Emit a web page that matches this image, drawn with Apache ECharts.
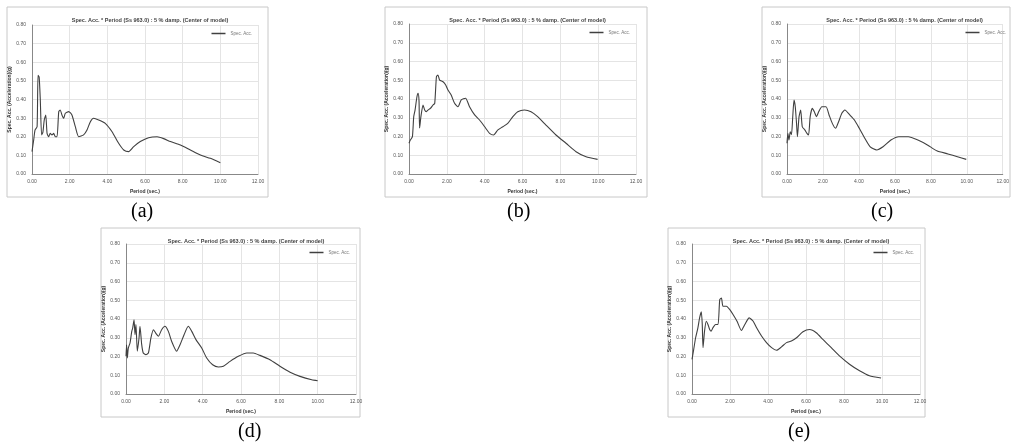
<!DOCTYPE html>
<html>
<head>
<meta charset="utf-8">
<script src="https://cdn.jsdelivr.net/npm/echarts@6/dist/echarts.min.js"></script>
<style>
html,body{margin:0;padding:0;background:#fff;}
#c{width:1012px;height:447px;}
</style>
</head>
<body>
<div id="c"></div>
<script>
// ---- data (period in sec., spectral value) ----
const xTicks = [0, 2, 4, 6, 8, 10, 12];
const yTicks = [0, 0.1, 0.2, 0.3, 0.4, 0.5, 0.6, 0.7, 0.8];
const captions = ['(a)', '(b)', '(c)', '(d)', '(e)'];
const titleText = 'Spec. Acc. * Period (Ss 963.0) : 5 % damp. (Center of model)';
const xAxisName = 'Period (sec.)';
const yAxisName = 'Spec. Acc. (Acceleration)(g)';
const seriesName = 'Spec. Acc.';

const aX = [0,0.09,0.16,0.27,0.32,0.38,0.44,0.51,0.58,0.65,0.73,0.80,0.88,0.97,1.06,1.15,1.24,1.33,1.42,1.50,1.59,1.68,1.77,1.95,2.12,2.30,2.48,2.74,2.92,3.10,3.27,3.54,3.89,4.25,4.60,4.87,5.13,5.40,5.75,6.19,6.64,6.99,7.35,7.88,8.41,8.94,9.47,10.0];
const aY = [0.12,0.183,0.236,0.254,0.53,0.52,0.40,0.21,0.225,0.29,0.317,0.218,0.20,0.218,0.21,0.218,0.20,0.20,0.335,0.344,0.317,0.299,0.326,0.335,0.317,0.254,0.20,0.21,0.236,0.281,0.299,0.29,0.272,0.227,0.165,0.129,0.12,0.147,0.174,0.195,0.20,0.19,0.174,0.156,0.129,0.102,0.084,0.061];

const bX = [0,0.07,0.18,0.25,0.32,0.42,0.48,0.53,0.56,0.63,0.74,0.83,0.91,1.0,1.13,1.27,1.36,1.45,1.53,1.62,1.80,1.94,2.06,2.23,2.41,2.59,2.76,2.99,3.20,3.47,3.73,4.0,4.26,4.47,4.70,4.96,5.22,5.49,5.75,6.10,6.45,6.80,7.24,7.77,8.30,8.83,9.36,9.97];
const bY = [0.164,0.181,0.199,0.306,0.341,0.412,0.43,0.39,0.245,0.306,0.368,0.341,0.332,0.341,0.35,0.368,0.377,0.519,0.528,0.501,0.492,0.475,0.448,0.421,0.377,0.359,0.395,0.404,0.359,0.315,0.288,0.252,0.217,0.208,0.235,0.252,0.27,0.306,0.332,0.341,0.332,0.306,0.261,0.208,0.164,0.119,0.092,0.078];

const cX = [0,0.05,0.11,0.18,0.25,0.32,0.39,0.46,0.53,0.58,0.67,0.76,0.85,0.99,1.11,1.20,1.29,1.41,1.52,1.64,1.76,1.94,2.17,2.34,2.52,2.70,2.87,3.05,3.22,3.49,3.75,4.02,4.28,4.63,4.99,5.34,5.78,6.22,6.75,7.28,7.81,8.33,8.95,9.48,9.97];
const cY = [0.164,0.217,0.181,0.225,0.21,0.306,0.395,0.359,0.27,0.199,0.306,0.341,0.252,0.235,0.217,0.208,0.306,0.35,0.332,0.306,0.332,0.359,0.359,0.315,0.27,0.244,0.279,0.324,0.341,0.315,0.288,0.244,0.199,0.145,0.128,0.145,0.181,0.199,0.199,0.181,0.155,0.124,0.107,0.092,0.078];

const dX = [0,0.03,0.07,0.12,0.21,0.30,0.35,0.42,0.47,0.52,0.59,0.68,0.73,0.82,0.90,1.04,1.17,1.30,1.43,1.55,1.69,1.86,2.03,2.21,2.38,2.64,2.82,3.03,3.25,3.43,3.65,3.95,4.21,4.52,4.82,5.08,5.43,5.86,6.30,6.64,6.99,7.51,8.03,8.56,9.08,9.69,10.0];
const dY = [0.201,0.263,0.192,0.245,0.272,0.334,0.352,0.396,0.316,0.37,0.228,0.299,0.361,0.263,0.219,0.21,0.219,0.299,0.343,0.325,0.308,0.343,0.361,0.334,0.281,0.228,0.263,0.316,0.361,0.334,0.29,0.245,0.192,0.156,0.144,0.148,0.174,0.201,0.219,0.219,0.206,0.183,0.148,0.116,0.094,0.076,0.071];

const eX = [0,0.09,0.19,0.31,0.40,0.49,0.54,0.58,0.66,0.75,0.84,0.93,1.01,1.10,1.24,1.37,1.46,1.55,1.63,1.81,1.99,2.16,2.37,2.60,2.78,3.01,3.22,3.40,3.66,3.92,4.19,4.45,4.71,4.97,5.23,5.50,5.84,6.19,6.54,6.89,7.33,7.76,8.29,8.82,9.34,9.95];
const eY = [0.185,0.238,0.300,0.353,0.406,0.438,0.371,0.247,0.335,0.388,0.371,0.344,0.335,0.353,0.371,0.371,0.503,0.512,0.468,0.468,0.450,0.424,0.388,0.339,0.371,0.406,0.388,0.353,0.309,0.274,0.247,0.233,0.251,0.274,0.283,0.300,0.332,0.344,0.327,0.291,0.247,0.203,0.159,0.124,0.097,0.085];

const panelX = [aX, bX, cX, dX, eX];
const panelY = [aY, bY, cY, dY, eY];

// ---- layout (pixels) ----
const panels = [
  {box:[7,7,268,197],   plot:[32,25,258,174],   cap:[143,213]},
  {box:[385,7,647,197], plot:[409,24,636,174],  cap:[519,213]},
  {box:[762,7,1010,197],plot:[787,24,1012,174], cap:[883,213]},
  {box:[101,228,360,417],plot:[126,244,356,394],cap:[250,433]},
  {box:[668,228,925,417],plot:[692,244,920,394],cap:[800,433]}
];

const W = 1012, H = 447;
const chart = echarts.init(document.getElementById('c'), null, {renderer:'canvas'});
const grid = [], xAxis = [], yAxis = [], series = [], title = [], legend = [], graphic = [];

panels.forEach((p, i) => {
  const [l, t, r, b] = p.plot;
  graphic.push({type:'rect', shape:{x:p.box[0], y:p.box[1], width:p.box[2]-p.box[0], height:p.box[3]-p.box[1]},
    style:{fill:'#fff', stroke:'#c8c8c8', lineWidth:1}, z:-10});
  graphic.push({type:'text', left:p.cap[0]-12, top:p.cap[1]-11,
    style:{text:captions[i], font:'20px "Liberation Serif", "DejaVu Serif", serif', fill:'#000'}});
  grid.push({left:l, top:t, width:r-l, height:b-t, containLabel:false});
  xAxis.push({gridIndex:i, type:'value', min:xTicks[0], max:xTicks[xTicks.length-1], interval:xTicks[1]-xTicks[0],
    name:xAxisName, nameLocation:'middle', nameGap:15,
    nameTextStyle:{fontSize:5, color:'#333', fontWeight:'bold', fontFamily:'Liberation Sans'},
    axisLine:{lineStyle:{color:'#888', width:1}}, axisTick:{show:false},
    axisLabel:{fontSize:5, color:'#555', margin:5, formatter:v=>v.toFixed(2), fontFamily:'Liberation Sans'},
    splitLine:{show:true, lineStyle:{color:'#e4e4e4', width:1}}});
  yAxis.push({gridIndex:i, type:'value', min:yTicks[0], max:yTicks[yTicks.length-1], interval:yTicks[1]-yTicks[0],
    name:yAxisName, nameLocation:'middle', nameGap:19, nameRotate:90,
    nameTextStyle:{fontSize:5, color:'#333', fontWeight:'bold', fontFamily:'Liberation Sans'},
    axisLine:{show:true, lineStyle:{color:'#888', width:1}}, axisTick:{show:false},
    axisLabel:{fontSize:5, color:'#555', margin:6, formatter:v=>v.toFixed(2), fontFamily:'Liberation Sans'},
    splitLine:{show:true, lineStyle:{color:'#e4e4e4', width:1}}});
  series.push({name:seriesName, type:'line', xAxisIndex:i, yAxisIndex:i, showSymbol:false, symbol:'none',
    smooth:0.2, data:panelX[i].map((x, k) => [x, panelY[i][k]]),
    lineStyle:{color:'#404040', width:1.1}, itemStyle:{color:'#404040'}, animation:false});
  title.push({text:titleText, left:(l+r)/2, top:p.box[1]+5, textAlign:'center',
    textStyle:{fontSize:5.5, color:'#444', fontWeight:'bold', fontFamily:'Liberation Sans'}});
  legend.push({data:[seriesName], right:W-r+6, top:t+6, itemWidth:14, itemHeight:1.5, itemGap:2,
    icon:'rect', textStyle:{fontSize:4.5, color:'#777'}, padding:0, selectedMode:false});
});

chart.setOption({
  animation:false,
  backgroundColor:'#fff',
  title, legend, grid, xAxis, yAxis, series, graphic
});
</script>
</body>
</html>
